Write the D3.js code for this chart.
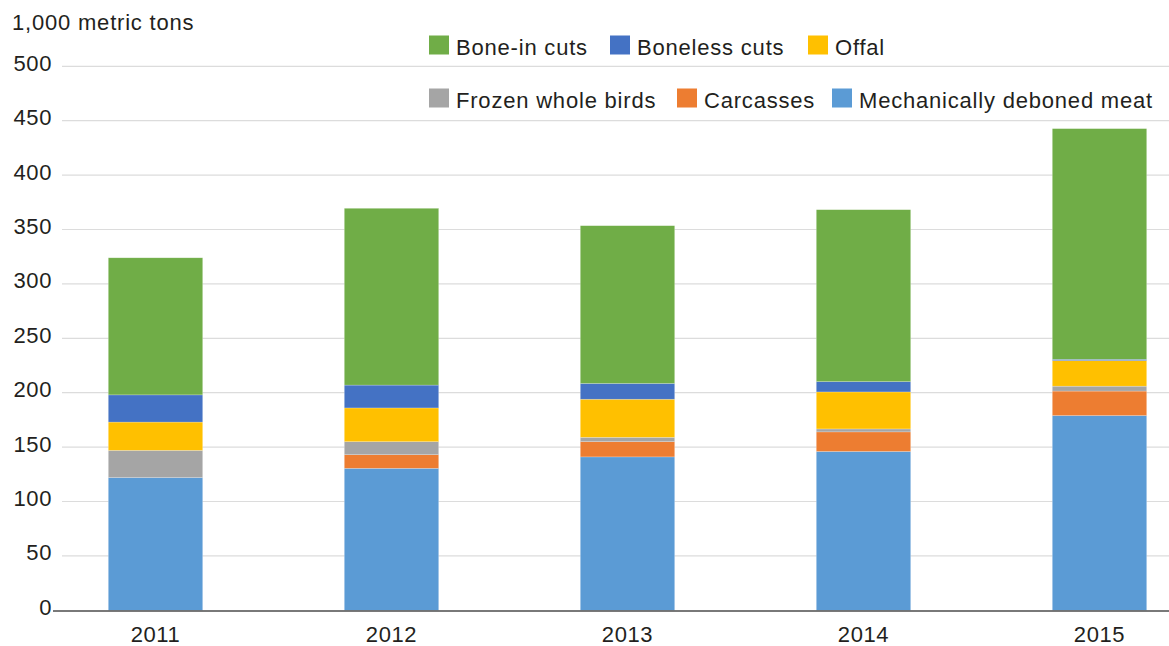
<!DOCTYPE html>
<html>
<head>
<meta charset="utf-8">
<script src="https://cdn.jsdelivr.net/npm/d3@7"></script>
<style>
  html, body { margin: 0; padding: 0; background: #fff; }
  svg { display: block; }
  text { font-family: "Liberation Sans", Arial, Helvetica, sans-serif; fill: #231f20; }
</style>
</head>
<body>
<svg id="chart" width="1169" height="646"></svg>
<script>
const years = ["2011", "2012", "2013", "2014", "2015"];
const seriesNames = ["Mechanically deboned meat", "Carcasses", "Frozen whole birds", "Offal", "Boneless cuts", "Bone-in cuts"];
const mechanicallyDeboned = [122, 130.5, 141, 146, 179];
const carcasses = [0, 12.5, 14, 18, 22.5];
const frozenWholeBirds = [25, 12, 4, 2.7, 4.5];
const offal = [26, 31, 35, 34, 23.5];
const bonelessCuts = [25, 21, 14.5, 9.5, 1.2];
const boneInCuts = [126, 162.5, 145, 158, 212];
const yTicks = [0, 50, 100, 150, 200, 250, 300, 350, 400, 450, 500];
const colors = ["#5b9bd5", "#ed7d31", "#a5a5a5", "#ffc000", "#4472c4", "#70ad47"];
const legendRows = [
  ["Bone-in cuts", "Boneless cuts", "Offal"],
  ["Frozen whole birds", "Carcasses", "Mechanically deboned meat"]
];

const valuesBySeries = [mechanicallyDeboned, carcasses, frozenWholeBirds, offal, bonelessCuts, boneInCuts];
const table = years.map((y, i) => {
  const row = { year: y };
  seriesNames.forEach((s, j) => row[s] = valuesBySeries[j][i]);
  return row;
});

const svg = d3.select("#chart");
const fontSize = 22;
const ls = "0.8px";

const y = d3.scaleLinear().domain([0, 500]).range([610.3, 66.3]);
const x = d3.scaleBand().domain(years).range([37.5, 1217.5]).paddingInner(0.6).paddingOuter(0.3);
const color = d3.scaleOrdinal().domain(seriesNames).range(colors);

// gridlines
svg.append("g").selectAll("line").data(yTicks.filter(d => d > 0)).join("line")
  .attr("x1", 62).attr("x2", 1169)
  .attr("y1", d => y(d)).attr("y2", d => y(d))
  .attr("stroke", "#dcdcdc").attr("stroke-width", 1.2);

// y tick labels
svg.append("g").selectAll("text").data(yTicks).join("text")
  .attr("x", 52).attr("y", d => y(d) + 4.5)
  .attr("text-anchor", "end")
  .style("font-size", fontSize + "px").style("letter-spacing", "0.6px")
  .text(d => d);

// axis title
svg.append("text").attr("x", 12).attr("y", 30)
  .style("font-size", fontSize + "px").style("letter-spacing", ls)
  .text("1,000 metric tons");

// stacked bars
const stack = d3.stack().keys(seriesNames);
const stacked = stack(table);
svg.append("g").selectAll("g").data(stacked).join("g")
  .attr("fill", d => color(d.key))
  .selectAll("rect").data(d => d).join("rect")
  .attr("x", d => x(d.data.year))
  .attr("width", x.bandwidth())
  .attr("y", d => y(d[1]))
  .attr("height", d => Math.max(0, y(d[0]) - y(d[1])))
  .attr("stroke", "#ffffff").attr("stroke-opacity", 0.35).attr("stroke-width", 0.6);

// baseline axis
svg.append("line").attr("x1", 53).attr("x2", 1169)
  .attr("y1", y(0) + 0.7).attr("y2", y(0) + 0.7)
  .attr("stroke", "#4d4d4d").attr("stroke-width", 1.5);

// x labels
const xAxis = d3.axisBottom(x).tickSize(0).tickPadding(0);
const gx = svg.append("g").attr("transform", `translate(0,${y(0)})`).call(xAxis);
gx.select(".domain").remove();
gx.selectAll("text").attr("dy", null).attr("y", 31.5)
  .style("font-size", fontSize + "px").style("letter-spacing", "0.6px")
  .style("font-family", '"Liberation Sans", Arial, sans-serif').attr("fill", "#231f20");

// legend
const legendSquareX = [[429, 610, 808], [429, 677, 832]];
const legendBaseline = [54.5, 107.5];
const legendSquareTop = [35.5, 88.5];
legendRows.forEach((row, r) => {
  const g = svg.append("g");
  g.selectAll("rect").data(row).join("rect")
    .attr("x", (d, i) => legendSquareX[r][i]).attr("y", legendSquareTop[r])
    .attr("width", 20).attr("height", 19)
    .attr("fill", d => color(d));
  g.selectAll("text").data(row).join("text")
    .attr("x", (d, i) => legendSquareX[r][i] + 27).attr("y", legendBaseline[r])
    .style("font-size", fontSize + "px").style("letter-spacing", ls)
    .text(d => d);
});
</script>
</body>
</html>
